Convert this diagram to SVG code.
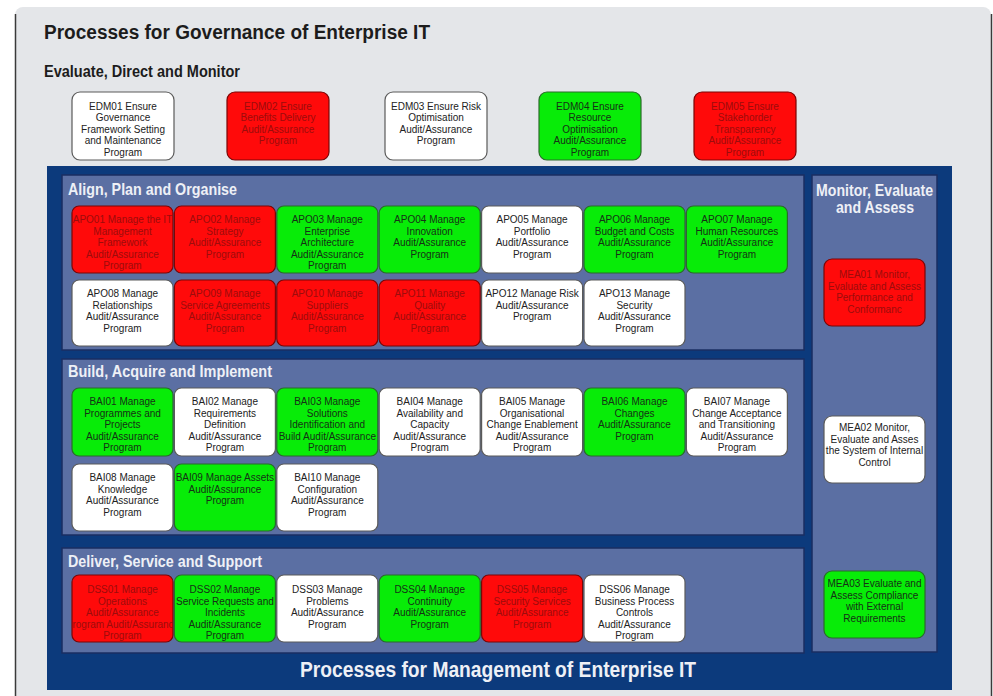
<svg xmlns="http://www.w3.org/2000/svg" width="993" height="696" viewBox="0 0 993 696">
<style>
.h{font-family:"Liberation Sans",Arial,sans-serif;font-weight:bold;lengthAdjust:spacingAndGlyphs}
.ht{fill:#1c1c1c}
.hw{fill:#eef0f6}
.n text{font-family:"Liberation Sans",Arial,sans-serif;font-size:10px;text-anchor:middle;fill:#222}
.n rect{stroke-width:1.2}
.red rect{fill:#ff0a0a;stroke:#7a0606}
.red text{fill:#9c0c0c}
.grn rect{fill:#08ec08;stroke:#2b6a2b}
.grn text{fill:#163016}
.wht rect{fill:#ffffff;stroke:#5a5a5a}
.sec{fill:#5b6fa3;stroke:#1a2e62;stroke-width:1.5}
</style>
<defs>
<clipPath id="clipDSS01"><rect x="72" y="575" width="101" height="67" rx="7"/></clipPath>
</defs>
<rect x="0" y="0" width="993" height="696" fill="#ffffff"/>
<rect x="15" y="7" width="976" height="700" rx="8" fill="#e4e6e9"/>
<line x1="15.5" y1="14" x2="15.5" y2="696" stroke="#3a3a3a" stroke-width="1.5"/>
<line x1="991.5" y1="14" x2="991.5" y2="696" stroke="#3a3a3a" stroke-width="1.5"/>

<text class="h ht" x="44" y="39" font-size="20" textLength="386" lengthAdjust="spacingAndGlyphs">Processes for Governance of Enterprise IT</text>
<text class="h ht" x="44" y="77" font-size="16" textLength="196" lengthAdjust="spacingAndGlyphs">Evaluate, Direct and Monitor</text>

<rect x="47" y="166" width="905" height="524" fill="#0c3a7c"/>
<rect class="sec" x="62" y="175" width="742" height="175"/>
<rect class="sec" x="62" y="359" width="742" height="176"/>
<rect class="sec" x="62" y="548" width="742" height="105"/>
<rect class="sec" x="812" y="175" width="125" height="477"/>

<text class="h hw" x="68" y="195" font-size="16.5" textLength="169" lengthAdjust="spacingAndGlyphs">Align, Plan and Organise</text>
<text class="h hw" x="68" y="377" font-size="16.5" textLength="204" lengthAdjust="spacingAndGlyphs">Build, Acquire and Implement</text>
<text class="h hw" x="68" y="567" font-size="16.5" textLength="194" lengthAdjust="spacingAndGlyphs">Deliver, Service and Support</text>
<text class="h hw" x="816" y="196" font-size="16.5" textLength="117" lengthAdjust="spacingAndGlyphs">Monitor, Evaluate</text>
<text class="h hw" x="836" y="213" font-size="16.5" textLength="78" lengthAdjust="spacingAndGlyphs">and Assess</text>
<text class="h hw" x="300" y="677" font-size="22" textLength="396" lengthAdjust="spacingAndGlyphs">Processes for Management of Enterprise IT</text>

<g id="connectors"></g>

<!-- EDM -->
<g id="EDM01" class="n wht"><rect x="72" y="92" width="102" height="68" rx="8"/><text y="109.5"><tspan x="123">EDM01 Ensure</tspan><tspan x="123" dy="11.6">Governance</tspan><tspan x="123" dy="11.6">Framework Setting</tspan><tspan x="123" dy="11.6">and Maintenance</tspan><tspan x="123" dy="11.6">Program</tspan></text></g>
<g id="EDM02" class="n red"><rect x="227" y="92" width="102" height="68" rx="8"/><text y="109.5"><tspan x="278">EDM02 Ensure</tspan><tspan x="278" dy="11.6">Benefits Delivery</tspan><tspan x="278" dy="11.6">Audit/Assurance</tspan><tspan x="278" dy="11.6">Program</tspan></text></g>
<g id="EDM03" class="n wht"><rect x="385" y="92" width="102" height="68" rx="8"/><text y="109.5"><tspan x="436">EDM03 Ensure Risk</tspan><tspan x="436" dy="11.6">Optimisation</tspan><tspan x="436" dy="11.6">Audit/Assurance</tspan><tspan x="436" dy="11.6">Program</tspan></text></g>
<g id="EDM04" class="n grn"><rect x="539" y="92" width="102" height="68" rx="8"/><text y="109.5"><tspan x="590">EDM04 Ensure</tspan><tspan x="590" dy="11.6">Resource</tspan><tspan x="590" dy="11.6">Optimisation</tspan><tspan x="590" dy="11.6">Audit/Assurance</tspan><tspan x="590" dy="11.6">Program</tspan></text></g>
<g id="EDM05" class="n red"><rect x="694" y="92" width="102" height="68" rx="8"/><text y="109.5"><tspan x="745">EDM05 Ensure</tspan><tspan x="745" dy="11.6">Stakehorder</tspan><tspan x="745" dy="11.6">Transparency</tspan><tspan x="745" dy="11.6">Audit/Assurance</tspan><tspan x="745" dy="11.6">Program</tspan></text></g>

<!-- APO row 1 -->
<g id="APO01" class="n red"><rect x="72" y="206" width="101" height="67" rx="7"/><text y="223"><tspan x="122.5">APO01 Manage the IT</tspan><tspan x="122.5" dy="11.6">Management</tspan><tspan x="122.5" dy="11.6">Framework</tspan><tspan x="122.5" dy="11.6">Audit/Assurance</tspan><tspan x="122.5" dy="11.6">Program</tspan></text></g>
<g id="APO02" class="n red"><rect x="174.4" y="206" width="101" height="67" rx="7"/><text y="223"><tspan x="224.9">APO02 Manage</tspan><tspan x="224.9" dy="11.6">Strategy</tspan><tspan x="224.9" dy="11.6">Audit/Assurance</tspan><tspan x="224.9" dy="11.6">Program</tspan></text></g>
<g id="APO03" class="n grn"><rect x="276.8" y="206" width="101" height="67" rx="7"/><text y="223"><tspan x="327.3">APO03 Manage</tspan><tspan x="327.3" dy="11.6">Enterprise</tspan><tspan x="327.3" dy="11.6">Architecture</tspan><tspan x="327.3" dy="11.6">Audit/Assurance</tspan><tspan x="327.3" dy="11.6">Program</tspan></text></g>
<g id="APO04" class="n grn"><rect x="379.2" y="206" width="101" height="67" rx="7"/><text y="223"><tspan x="429.7">APO04 Manage</tspan><tspan x="429.7" dy="11.6">Innovation</tspan><tspan x="429.7" dy="11.6">Audit/Assurance</tspan><tspan x="429.7" dy="11.6">Program</tspan></text></g>
<g id="APO05" class="n wht"><rect x="481.6" y="206" width="101" height="67" rx="7"/><text y="223"><tspan x="532.1">APO05 Manage</tspan><tspan x="532.1" dy="11.6">Portfolio</tspan><tspan x="532.1" dy="11.6">Audit/Assurance</tspan><tspan x="532.1" dy="11.6">Program</tspan></text></g>
<g id="APO06" class="n grn"><rect x="584" y="206" width="101" height="67" rx="7"/><text y="223"><tspan x="634.5">APO06 Manage</tspan><tspan x="634.5" dy="11.6">Budget and Costs</tspan><tspan x="634.5" dy="11.6">Audit/Assurance</tspan><tspan x="634.5" dy="11.6">Program</tspan></text></g>
<g id="APO07" class="n grn"><rect x="686.4" y="206" width="101" height="67" rx="7"/><text y="223"><tspan x="736.9">APO07 Manage</tspan><tspan x="736.9" dy="11.6">Human Resources</tspan><tspan x="736.9" dy="11.6">Audit/Assurance</tspan><tspan x="736.9" dy="11.6">Program</tspan></text></g>

<!-- APO row 2 -->
<g id="APO08" class="n wht"><rect x="72" y="280" width="101" height="66" rx="7"/><text y="297"><tspan x="122.5">APO08 Manage</tspan><tspan x="122.5" dy="11.6">Relationships</tspan><tspan x="122.5" dy="11.6">Audit/Assurance</tspan><tspan x="122.5" dy="11.6">Program</tspan></text></g>
<g id="APO09" class="n red"><rect x="174.4" y="280" width="101" height="66" rx="7"/><text y="297"><tspan x="224.9">APO09 Manage</tspan><tspan x="224.9" dy="11.6">Service Agreements</tspan><tspan x="224.9" dy="11.6">Audit/Assurance</tspan><tspan x="224.9" dy="11.6">Program</tspan></text></g>
<g id="APO10" class="n red"><rect x="276.8" y="280" width="101" height="66" rx="7"/><text y="297"><tspan x="327.3">APO10 Manage</tspan><tspan x="327.3" dy="11.6">Suppliers</tspan><tspan x="327.3" dy="11.6">Audit/Assurance</tspan><tspan x="327.3" dy="11.6">Program</tspan></text></g>
<g id="APO11" class="n red"><rect x="379.2" y="280" width="101" height="66" rx="7"/><text y="297"><tspan x="429.7">APO11 Manage</tspan><tspan x="429.7" dy="11.6">Quality</tspan><tspan x="429.7" dy="11.6">Audit/Assurance</tspan><tspan x="429.7" dy="11.6">Program</tspan></text></g>
<g id="APO12" class="n wht"><rect x="481.6" y="280" width="101" height="66" rx="7"/><text y="297"><tspan x="532.1">APO12 Manage Risk</tspan><tspan x="532.1" dy="11.6">Audit/Assurance</tspan><tspan x="532.1" dy="11.6">Program</tspan></text></g>
<g id="APO13" class="n wht"><rect x="584" y="280" width="101" height="66" rx="7"/><text y="297"><tspan x="634.5">APO13 Manage</tspan><tspan x="634.5" dy="11.6">Security</tspan><tspan x="634.5" dy="11.6">Audit/Assurance</tspan><tspan x="634.5" dy="11.6">Program</tspan></text></g>

<!-- BAI row 1 -->
<g id="BAI01" class="n grn"><rect x="72" y="388" width="101" height="68" rx="7"/><text y="405"><tspan x="122.5">BAI01 Manage</tspan><tspan x="122.5" dy="11.6">Programmes and</tspan><tspan x="122.5" dy="11.6">Projects</tspan><tspan x="122.5" dy="11.6">Audit/Assurance</tspan><tspan x="122.5" dy="11.6">Program</tspan></text></g>
<g id="BAI02" class="n wht"><rect x="174.4" y="388" width="101" height="68" rx="7"/><text y="405"><tspan x="224.9">BAI02 Manage</tspan><tspan x="224.9" dy="11.6">Requirements</tspan><tspan x="224.9" dy="11.6">Definition</tspan><tspan x="224.9" dy="11.6">Audit/Assurance</tspan><tspan x="224.9" dy="11.6">Program</tspan></text></g>
<g id="BAI03" class="n grn"><rect x="276.8" y="388" width="101" height="68" rx="7"/><text y="405"><tspan x="327.3">BAI03 Manage</tspan><tspan x="327.3" dy="11.6">Solutions</tspan><tspan x="327.3" dy="11.6">Identification and</tspan><tspan x="327.3" dy="11.6">Build Audit/Assurance</tspan><tspan x="327.3" dy="11.6">Program</tspan></text></g>
<g id="BAI04" class="n wht"><rect x="379.2" y="388" width="101" height="68" rx="7"/><text y="405"><tspan x="429.7">BAI04 Manage</tspan><tspan x="429.7" dy="11.6">Availability and</tspan><tspan x="429.7" dy="11.6">Capacity</tspan><tspan x="429.7" dy="11.6">Audit/Assurance</tspan><tspan x="429.7" dy="11.6">Program</tspan></text></g>
<g id="BAI05" class="n wht"><rect x="481.6" y="388" width="101" height="68" rx="7"/><text y="405"><tspan x="532.1">BAI05 Manage</tspan><tspan x="532.1" dy="11.6">Organisational</tspan><tspan x="532.1" dy="11.6">Change Enablement</tspan><tspan x="532.1" dy="11.6">Audit/Assurance</tspan><tspan x="532.1" dy="11.6">Program</tspan></text></g>
<g id="BAI06" class="n grn"><rect x="584" y="388" width="101" height="68" rx="7"/><text y="405"><tspan x="634.5">BAI06 Manage</tspan><tspan x="634.5" dy="11.6">Changes</tspan><tspan x="634.5" dy="11.6">Audit/Assurance</tspan><tspan x="634.5" dy="11.6">Program</tspan></text></g>
<g id="BAI07" class="n wht"><rect x="686.4" y="388" width="101" height="68" rx="7"/><text y="405"><tspan x="736.9">BAI07 Manage</tspan><tspan x="736.9" dy="11.6">Change Acceptance</tspan><tspan x="736.9" dy="11.6">and Transitioning</tspan><tspan x="736.9" dy="11.6">Audit/Assurance</tspan><tspan x="736.9" dy="11.6">Program</tspan></text></g>

<!-- BAI row 2 -->
<g id="BAI08" class="n wht"><rect x="72" y="464" width="101" height="67" rx="7"/><text y="481"><tspan x="122.5">BAI08 Manage</tspan><tspan x="122.5" dy="11.6">Knowledge</tspan><tspan x="122.5" dy="11.6">Audit/Assurance</tspan><tspan x="122.5" dy="11.6">Program</tspan></text></g>
<g id="BAI09" class="n grn"><rect x="174.4" y="464" width="101" height="67" rx="7"/><text y="481"><tspan x="224.9">BAI09 Manage Assets</tspan><tspan x="224.9" dy="11.6">Audit/Assurance</tspan><tspan x="224.9" dy="11.6">Program</tspan></text></g>
<g id="BAI10" class="n wht"><rect x="276.8" y="464" width="101" height="67" rx="7"/><text y="481"><tspan x="327.3">BAI10 Manage</tspan><tspan x="327.3" dy="11.6">Configuration</tspan><tspan x="327.3" dy="11.6">Audit/Assurance</tspan><tspan x="327.3" dy="11.6">Program</tspan></text></g>

<!-- DSS -->
<g id="DSS01" class="n red"><rect x="72" y="575" width="101" height="67" rx="7"/><text y="593" clip-path="url(#clipDSS01)"><tspan x="122.5">DSS01 Manage</tspan><tspan x="122.5" dy="11.6">Operations</tspan><tspan x="122.5" dy="11.6">Audit/Assurance</tspan><tspan x="122.5" dy="11.6">Program Audit/Assurance</tspan><tspan x="122.5" dy="11.6">Program</tspan></text></g>
<g id="DSS02" class="n grn"><rect x="174.4" y="575" width="101" height="67" rx="7"/><text y="593"><tspan x="224.9">DSS02 Manage</tspan><tspan x="224.9" dy="11.6">Service Requests and</tspan><tspan x="224.9" dy="11.6">Incidents</tspan><tspan x="224.9" dy="11.6">Audit/Assurance</tspan><tspan x="224.9" dy="11.6">Program</tspan></text></g>
<g id="DSS03" class="n wht"><rect x="276.8" y="575" width="101" height="67" rx="7"/><text y="593"><tspan x="327.3">DSS03 Manage</tspan><tspan x="327.3" dy="11.6">Problems</tspan><tspan x="327.3" dy="11.6">Audit/Assurance</tspan><tspan x="327.3" dy="11.6">Program</tspan></text></g>
<g id="DSS04" class="n grn"><rect x="379.2" y="575" width="101" height="67" rx="7"/><text y="593"><tspan x="429.7">DSS04 Manage</tspan><tspan x="429.7" dy="11.6">Continuity</tspan><tspan x="429.7" dy="11.6">Audit/Assurance</tspan><tspan x="429.7" dy="11.6">Program</tspan></text></g>
<g id="DSS05" class="n red"><rect x="481.6" y="575" width="101" height="67" rx="7"/><text y="593"><tspan x="532.1">DSS05 Manage</tspan><tspan x="532.1" dy="11.6">Security Services</tspan><tspan x="532.1" dy="11.6">Audit/Assurance</tspan><tspan x="532.1" dy="11.6">Program</tspan></text></g>
<g id="DSS06" class="n wht"><rect x="584" y="575" width="101" height="67" rx="7"/><text y="593"><tspan x="634.5">DSS06 Manage</tspan><tspan x="634.5" dy="11.6">Business Process</tspan><tspan x="634.5" dy="11.6">Controls</tspan><tspan x="634.5" dy="11.6">Audit/Assurance</tspan><tspan x="634.5" dy="11.6">Program</tspan></text></g>

<!-- MEA -->
<g id="MEA01" class="n red"><rect x="824" y="259" width="101" height="67" rx="8"/><text y="278"><tspan x="874.5">MEA01 Monitor,</tspan><tspan x="874.5" dy="11.6">Evaluate and Assess</tspan><tspan x="874.5" dy="11.6">Performance and</tspan><tspan x="874.5" dy="11.6">Conformanc</tspan></text></g>
<g id="MEA02" class="n wht"><rect x="824" y="416" width="101" height="67" rx="8"/><text y="431"><tspan x="874.5">MEA02 Monitor,</tspan><tspan x="874.5" dy="11.6">Evaluate and Asses</tspan><tspan x="874.5" dy="11.6">the System of Internal</tspan><tspan x="874.5" dy="11.6">Control</tspan></text></g>
<g id="MEA03" class="n grn"><rect x="824" y="571" width="101" height="67" rx="8"/><text y="587"><tspan x="874.5">MEA03 Evaluate and</tspan><tspan x="874.5" dy="11.6">Assess Compliance</tspan><tspan x="874.5" dy="11.6">with External</tspan><tspan x="874.5" dy="11.6">Requirements</tspan></text></g>
</svg>
